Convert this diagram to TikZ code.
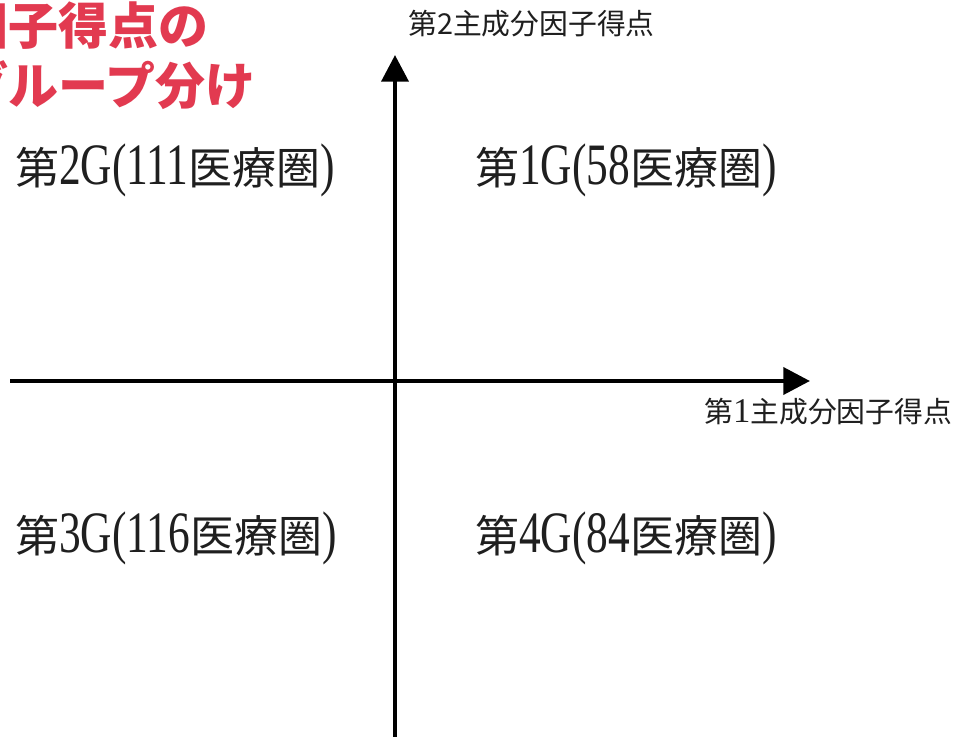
\documentclass[tikz,border=0pt]{standalone}
\usepackage{fontspec}
\usetikzlibrary{arrows.meta}
\newfontfamily\cjk{Noto Sans CJK JP}
\newfontfamily\qlat[FakeStretch=0.74]{Liberation Serif}
\newfontfamily\lserif{Liberation Serif}
\definecolor{titlered}{RGB}{226,58,80}
\newcommand{\qlab}[2]{{\fontsize{33pt}{33pt}\cjk 第}{\fontsize{44pt}{44pt}\qlat #1(#2}{\fontsize{33pt}{33pt}\cjk 医療圏}{\fontsize{44pt}{44pt}\qlat )}}
\begin{document}
\begin{tikzpicture}[x=0.75pt,y=-0.75pt,
  axis/.style={line width=3.6pt,-{Triangle[length=20pt,width=20pt]}},
  quad/.style={anchor=base west,inner sep=0pt,text=black!88},
  axlab/.style={anchor=base west,inner sep=0pt,text=black!88,font=\fontsize{21.6pt}{21.6pt}\cjk},
  title/.style={anchor=base west,inner sep=0pt,text=titlered,font=\fontsize{37.5pt}{37.5pt}\cjk\bfseries}]
\clip (0,0) rectangle (957,737);
\fill[white] (0,0) rectangle (957,737);
% title (cropped at left edge, as in the reference)
\node[title] (t1) at (-42,45) {因子得点の};
\node[title] (t2) at (-42,105) {グループ分け};
% axes
\coordinate (xl) at (10,381);
\coordinate (xr) at (810,381);
\coordinate (yb) at (395,745);
\coordinate (yt) at (395,55);
\draw[axis] (xl) -- (xr);
\draw[axis] (yb) -- (yt);
% axis labels
\node[axlab] (ly) at (408,35) {第2主成分因子得点};
\node[axlab] (lx) at (704,423) {第{\fontsize{26pt}{26pt}\lserif 1}主成分因子得点};
% quadrant labels
\node[quad] (g2) at (15,185) {\qlab{2G}{111}};
\node[quad] (g1) at (475,185) {\qlab{1G}{58}};
\node[quad] (g3) at (15,553) {\qlab{3G}{116}};
\node[quad] (g4) at (475,553) {\qlab{4G}{84}};
\end{tikzpicture}
\end{document}
